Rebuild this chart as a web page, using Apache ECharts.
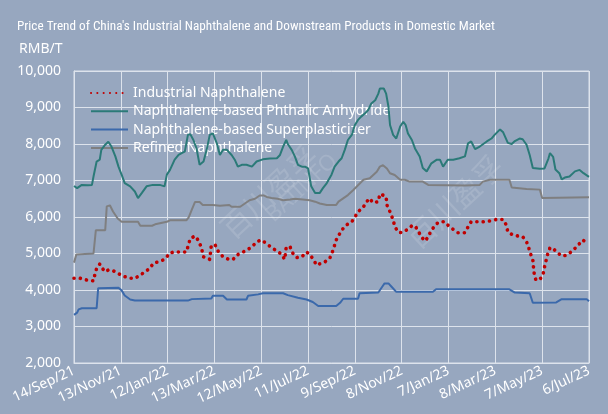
<!DOCTYPE html>
<html>
<head>
<meta charset="utf-8">
<script src="https://cdn.jsdelivr.net/npm/echarts@6/dist/echarts.min.js"></script>
<style>
  html, body { margin: 0; padding: 0; background: #97a7bf; }
  #chart { width: 608px; height: 414px; }
</style>
</head>
<body>
<div id="chart"></div>
<script>
// Axis tick labels, one every 60 days starting 14 Sep 2021
const tickLabels = ['14/Sep/21', '13/Nov/21', '12/Jan/22', '13/Mar/22', '12/May/22', '11/Jul/22',
  '9/Sep/22', '8/Nov/22', '7/Jan/23', '8/Mar/23', '7/May/23', '6/Jul/23'];

const seriesNames = ['Industrial Naphthalene', 'Naphthalene-based Phthalic Anhydride',
  'Naphthalene-based Superplasticizer', 'Refined Naphthalene'];

// Day offsets (days after 14/Sep/21) and prices in RMB/T
const naphDays = [0, 8, 17, 25, 27, 29, 33, 36, 40, 44, 50, 57, 63, 72, 78, 85, 91, 97, 102, 108, 114, 119, 123, 129, 144, 149, 155, 159, 163, 166, 174, 176, 181, 185, 191, 198, 204, 208, 215, 221, 228, 234, 240, 247, 253, 260, 266, 270, 272, 277, 280, 285, 292, 298, 302, 306, 311, 315, 321, 328, 332, 336, 343, 349, 356, 360, 364, 371, 375, 379, 383, 390, 392, 396, 400, 401, 405, 409, 411, 415, 420, 426, 433, 437, 441, 445, 450, 454, 458, 465, 469, 475, 479, 486, 492, 501, 505, 509, 524, 533, 541, 550, 554, 556, 563, 569, 575, 580, 583, 585, 588, 589, 590, 592, 597, 601, 603, 607, 610, 614, 618, 625, 631, 637, 644, 652, 659];
const naphPrices = [4320, 4320, 4270, 4250, 4450, 4590, 4710, 4600, 4500, 4550, 4530, 4450, 4380, 4320, 4320, 4410, 4500, 4590, 4740, 4770, 4820, 4910, 5020, 5040, 5040, 5410, 5480, 5370, 5180, 4910, 4840, 5230, 5230, 5050, 4910, 4840, 4840, 4950, 5020, 5090, 5180, 5320, 5370, 5270, 5160, 5070, 4980, 4840, 5180, 5180, 5020, 4890, 4910, 5040, 4980, 4860, 4680, 4720, 4760, 4880, 5090, 5370, 5640, 5780, 5870, 6000, 6140, 6280, 6420, 6510, 6390, 6420, 6630, 6600, 6550, 6330, 6140, 5920, 5750, 5590, 5570, 5640, 5760, 5760, 5620, 5460, 5340, 5460, 5640, 5820, 5870, 5870, 5780, 5660, 5570, 5570, 5730, 5870, 5870, 5890, 5930, 5930, 5780, 5590, 5500, 5480, 5460, 5320, 5140, 5000, 4820, 4590, 4410, 4270, 4290, 4410, 4630, 4980, 5160, 5140, 5050, 4930, 4950, 5040, 5180, 5370, 5270];

const phthalicDays = [0, 4, 10, 18, 23, 25, 29, 33, 35, 40, 44, 48, 53, 57, 61, 65, 72, 78, 82, 87, 93, 101, 110, 116, 119, 123, 129, 134, 138, 142, 146, 149, 153, 157, 161, 166, 170, 174, 178, 183, 187, 191, 196, 202, 206, 210, 215, 221, 228, 234, 242, 251, 260, 264, 268, 272, 274, 279, 283, 287, 292, 296, 300, 304, 309, 315, 319, 324, 330, 334, 339, 343, 347, 351, 356, 360, 364, 368, 373, 377, 381, 386, 390, 392, 397, 400, 403, 405, 409, 413, 418, 422, 425, 428, 433, 437, 443, 447, 452, 458, 465, 469, 473, 479, 486, 494, 501, 505, 509, 514, 520, 529, 535, 539, 546, 550, 556, 561, 565, 571, 575, 580, 584, 588, 597, 603, 608, 610, 614, 617, 622, 625, 629, 635, 642, 648, 653, 660];
const phthalicPrices = [6850, 6790, 6880, 6870, 6880, 7110, 7520, 7570, 7840, 7980, 8060, 7930, 7660, 7380, 7160, 6930, 6840, 6700, 6520, 6660, 6840, 6880, 6880, 6840, 7160, 7290, 7570, 7700, 7750, 7790, 8250, 8270, 8110, 7880, 7430, 7520, 7840, 8250, 8290, 8020, 7700, 7840, 7840, 7700, 7570, 7380, 7430, 7430, 7380, 7520, 7580, 7600, 7610, 7700, 7930, 8110, 8000, 7840, 7660, 7430, 7380, 7380, 7330, 6840, 6660, 6660, 6790, 6930, 7160, 7380, 7520, 7610, 7840, 8110, 8250, 8520, 8660, 8750, 8840, 8930, 9110, 9200, 9380, 9520, 9520, 9380, 9020, 8520, 8250, 8150, 8480, 8610, 8520, 8290, 8110, 7880, 7660, 7340, 7250, 7470, 7570, 7570, 7380, 7570, 7570, 7610, 7660, 8020, 8070, 7860, 7930, 8070, 8150, 8250, 8400, 8320, 8030, 8000, 8080, 8150, 8130, 7980, 7700, 7340, 7320, 7330, 7600, 7750, 7650, 7300, 7200, 7030, 7080, 7110, 7250, 7290, 7200, 7100];

const superDays = [0, 4, 6, 10, 29, 31, 33, 57, 61, 65, 72, 78, 146, 151, 176, 178, 191, 196, 221, 223, 236, 242, 268, 274, 287, 298, 306, 313, 336, 341, 345, 364, 366, 390, 395, 398, 403, 407, 413, 460, 464, 558, 565, 584, 588, 618, 625, 657, 660];
const superPrices = [3320, 3380, 3470, 3500, 3500, 4050, 4070, 4060, 3990, 3850, 3740, 3710, 3710, 3750, 3770, 3840, 3840, 3740, 3740, 3840, 3880, 3910, 3910, 3860, 3790, 3740, 3670, 3560, 3560, 3650, 3760, 3760, 3910, 3930, 4090, 4180, 4180, 4090, 3950, 3950, 4020, 4020, 3930, 3910, 3650, 3660, 3750, 3750, 3690];

const refinedDays = [0, 3, 25, 28, 40, 42, 46, 50, 56, 61, 82, 85, 100, 104, 119, 123, 144, 147, 151, 155, 161, 165, 178, 187, 199, 202, 213, 219, 225, 232, 238, 243, 247, 253, 261, 268, 277, 283, 293, 302, 309, 315, 324, 336, 339, 345, 351, 358, 364, 371, 379, 388, 392, 396, 401, 405, 411, 418, 424, 430, 447, 454, 501, 520, 524, 533, 558, 561, 580, 597, 600, 660];
const refinedPrices = [4750, 4970, 5000, 5640, 5640, 6290, 6320, 6150, 5960, 5870, 5870, 5760, 5760, 5800, 5870, 5910, 5910, 5990, 6200, 6410, 6410, 6330, 6330, 6310, 6330, 6280, 6280, 6370, 6460, 6500, 6590, 6590, 6550, 6520, 6500, 6460, 6480, 6500, 6480, 6460, 6420, 6370, 6330, 6330, 6420, 6510, 6600, 6740, 6870, 7020, 7060, 7240, 7380, 7420, 7330, 7200, 7150, 7020, 7020, 6970, 6970, 6880, 6860, 6880, 6970, 7020, 7020, 6810, 6770, 6750, 6520, 6540];

const colors = ['#c00000', '#2b7a78', '#3b69ab', '#7f7f80'];
const gridColor = '#dde3ec';
const textColor = '#ffffff';
const fontFamily = '"Noto Sans", "Liberation Sans", sans-serif';

function pairs(days, prices) {
  return days.map((d, i) => [d, prices[i]]);
}

const chart = echarts.init(document.getElementById('chart'), null, { renderer: 'canvas' });

chart.setOption({
  animation: false,
  backgroundColor: '#97a7bf',
  color: colors,
  title: [
    {
      text: "Price Trend of China's Industrial Naphthalene and Downstream Products in Domestic Market",
      left: 12, top: 15,
      textStyle: { color: textColor, fontSize: 13.2, fontWeight: 'normal', fontFamily: '"Liberation Sans Narrow", "Roboto Condensed", ' + fontFamily }
    },
    {
      text: 'RMB/T',
      left: 14, top: 37,
      textStyle: { color: textColor, fontSize: 14, fontWeight: 'normal', fontFamily: fontFamily }
    }
  ],
  graphic: [
    { type: 'text', left: 215, top: 140, rotation: Math.PI / 4.2, z: 1, silent: true,
      style: { text: '百川盈孚', fill: 'rgba(255,255,255,0.13)', font: '30px "Noto Sans CJK SC"' } },
    { type: 'text', left: 262, top: 150, rotation: Math.PI / 4.2, z: 1, silent: true,
      style: { text: 'BAIINFO', fill: 'rgba(255,255,255,0.13)', font: '22px "Noto Sans"' } },
    { type: 'text', left: 400, top: 150, rotation: Math.PI / 4.2, z: 1, silent: true,
      style: { text: '百川盈孚', fill: 'rgba(255,255,255,0.13)', font: '30px "Noto Sans CJK SC"' } }
  ],
  legend: {
    orient: 'vertical',
    left: 85, top: 80,
    itemWidth: 37, itemHeight: 12,
    itemGap: 2.3,
    itemStyle: { opacity: 0 },
    textStyle: { color: textColor, fontSize: 14, lineHeight: 16, fontFamily: fontFamily },
    data: seriesNames
  },
  grid: {
    left: 74, right: 19, top: 71, bottom: 51,
    show: true, borderColor: gridColor, borderWidth: 1
  },
  xAxis: {
    type: 'value',
    min: 0, max: 660, interval: 60,
    axisLine: { show: true, lineStyle: { color: gridColor } },
    axisTick: { show: false },
    splitLine: { show: true, lineStyle: { color: gridColor, width: 1 } },
    axisLabel: {
      rotate: 25, margin: 7,
      color: textColor, fontSize: 14, fontFamily: fontFamily,
      showMaxLabel: true, showMinLabel: true,
      formatter: v => tickLabels[Math.round(v / 60)]
    }
  },
  yAxis: {
    type: 'value',
    min: 2000, max: 10000, interval: 1000,
    axisLine: { show: true, lineStyle: { color: gridColor } },
    axisTick: { show: false },
    splitLine: { show: true, lineStyle: { color: gridColor, width: 1 } },
    axisLabel: {
      margin: 13, color: textColor, fontSize: 14, fontFamily: fontFamily,
      formatter: v => v.toLocaleString('en-US')
    }
  },
  series: [
    {
      name: seriesNames[0], type: 'line', symbol: 'none', z: 5,
      data: pairs(naphDays, naphPrices),
      lineStyle: { color: colors[0], width: 3.6, type: [0.1, 6.2], cap: 'round' }
    },
    {
      name: seriesNames[1], type: 'line', symbol: 'none', z: 4,
      data: pairs(phthalicDays, phthalicPrices),
      lineStyle: { color: colors[1], width: 2 }
    },
    {
      name: seriesNames[2], type: 'line', symbol: 'none', z: 4,
      data: pairs(superDays, superPrices),
      lineStyle: { color: colors[2], width: 2 }
    },
    {
      name: seriesNames[3], type: 'line', symbol: 'none', z: 4,
      data: pairs(refinedDays, refinedPrices),
      lineStyle: { color: colors[3], width: 2 }
    }
  ]
});
</script>
</body>
</html>
